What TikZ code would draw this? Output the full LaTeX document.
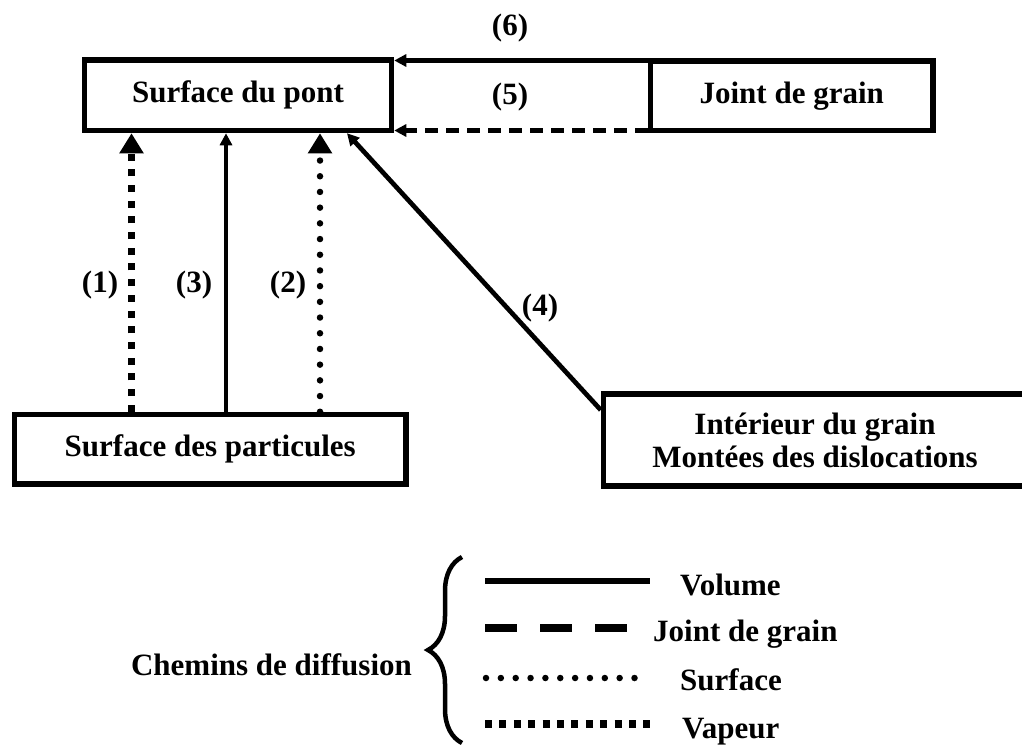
\documentclass[tikz,border=0pt]{standalone}
\usepackage{fontspec}
\setmainfont{Liberation Serif}
\usetikzlibrary{arrows.meta,decorations.pathreplacing}
\begin{document}
\begin{tikzpicture}[x=1pt,y=-1pt,
  txt/.style={font=\fontsize{31}{33}\selectfont\bfseries},
  box/.style={draw,line width=5.5pt,inner sep=0pt,align=center,txt},
  lbl/.style={inner sep=0pt,txt},
  bigtip/.style={-{Triangle[length=20pt,width=23pt]}},
  smalltip/.style={-{Triangle[length=12pt,width=12pt]}},
  volume/.style={line width=4.7pt},
  gbline/.style={line width=4.5pt,dash pattern=on 13pt off 8pt},
  vapour/.style={line width=7pt,dash pattern=on 7pt off 8.7pt},
  surfline/.style={line width=6.5pt,line cap=round,dash pattern=on 0pt off 15.7pt}
]
\useasboundingbox (0,0) rectangle (1022,747);
% boxes
\node[box,minimum width=307pt,minimum height=70.5pt] (pont) at (238,95.25) {Surface du pont};
\node[box,minimum width=282.5pt,minimum height=69.5pt] (joint) at (791.75,95.75) {Joint de grain};
\node[box,minimum width=391.5pt,minimum height=69.5pt] (part) at (210.25,449.25) {Surface des particules};
\node[box,minimum width=423pt,minimum height=92pt] (inter) at (815,440) {Intérieur du grain\\Montées des dislocations};
% connectors
\draw[volume,line width=4.5pt,smalltip] (joint.west |- 0,60.5) -- (pont.east |- 0,60.5);
\draw[gbline,smalltip] (joint.west |- 0,130.5) -- (pont.east |- 0,130.5);
\draw[vapour,bigtip] (131.5,0 |- part.north) -- (131.5,0 |- pont.south);
\draw[volume,smalltip] (226,0 |- part.north) -- (226,0 |- pont.south);
\draw[surfline,bigtip] (320,0 |- part.north) -- (320,0 |- pont.south);
\draw[volume,smalltip] (inter.west |- 0,410) -- (347,0 |- pont.south);
% labels
\node[lbl] (l6) at (510,28) {(6)};
\node[lbl] (l5) at (510,97) {(5)};
\node[lbl] (l1) at (100,285) {(1)};
\node[lbl] (l3) at (194,285) {(3)};
\node[lbl] (l2) at (288,285) {(2)};
\node[lbl] (l4) at (540,308) {(4)};
% legend
\node[lbl,anchor=base] (chem) at (271.5,675) {Chemins de diffusion};
\draw[line width=4.5pt,decorate,decoration={brace,amplitude=34pt}] (462,743) -- (462,557);
\draw[line width=6pt] (485,581) -- (650,581);
\draw[line width=7.5pt,dash pattern=on 32pt off 23pt] (485,628) -- (627,628);
\draw[line width=6.5pt,line cap=round,dash pattern=on 0pt off 14.85pt] (486,678) -- (648,678);
\draw[line width=8pt,dash pattern=on 7pt off 7.4pt] (485,724) -- (650,724);
\node[lbl,anchor=base west] (lvol) at (680,595) {Volume};
\node[lbl,anchor=base west] (ljg) at (653,641) {Joint de grain};
\node[lbl,anchor=base west] (lsurf) at (680,690) {Surface};
\node[lbl,anchor=base west] (lvap) at (682,738) {Vapeur};
\end{tikzpicture}
\end{document}
